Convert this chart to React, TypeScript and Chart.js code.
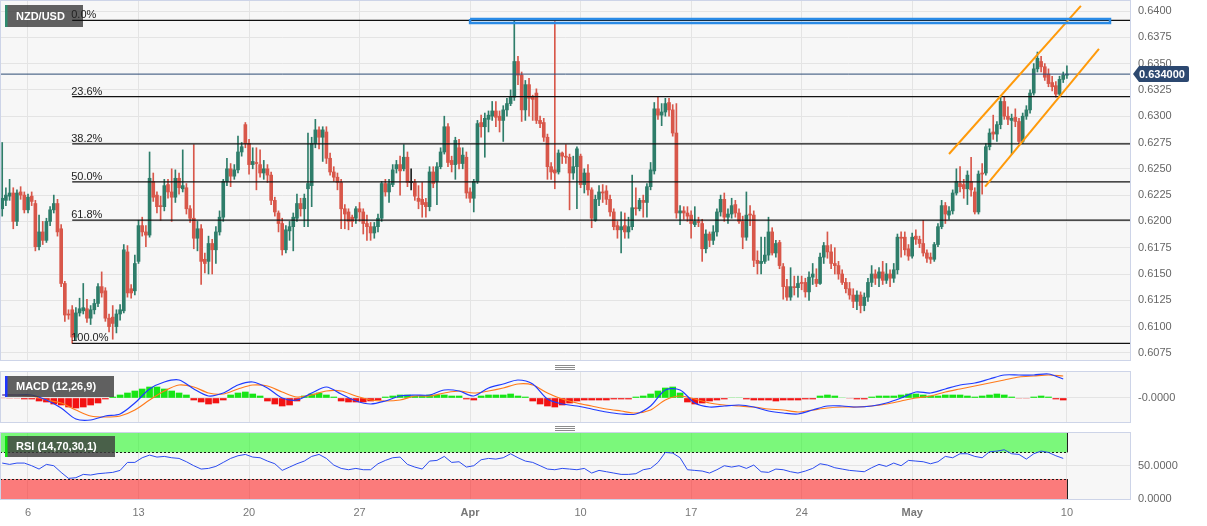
import React, { useEffect, useRef } from "react";
import { Chart, registerables } from "chart.js";

Chart.register(...registerables);

const FONT = '"Liberation Sans", Arial, Helvetica, sans-serif';
const PIP = 10000;

// ---- 4-hour NZD/USD candles, prices in pips (0.6212 -> 6212) ----
const openPips = [
  6212,6220,6224,6227,6200,6228,6225,6211,6224,6217,
  6176,6190,6182,6200,6211,6217,6193,6141,6112,6116,
  6090,6113,6115,6117,6108,6116,6122,6138,6134,6108,
  6109,6100,6112,6115,6171,6136,6134,6162,6196,6190,
  6187,6238,6225,6215,6214,6235,6228,6223,6241,6231,
  6232,6212,6203,6184,6193,6164,6162,6179,6173,6190,
  6204,6238,6250,6243,6249,6266,6292,6274,6254,6256,
  6254,6246,6250,6244,6220,6208,6198,6173,6191,6195,
  6203,6217,6212,6231,6234,6274,6287,6280,6285,6260,
  6247,6242,6237,6212,6209,6204,6203,6212,6209,6198,
  6195,6189,6195,6203,6236,6228,6235,6250,6254,6250,
  6261,6237,6237,6222,6221,6218,6214,6247,6238,6252,
  6266,6290,6258,6254,6270,6255,6261,6228,6222,6238,
  6294,6290,6297,6300,6305,6300,6296,6306,6312,6318,
  6352,6339,6306,6330,6318,6322,6296,6294,6280,6252,
  6249,6247,6265,6262,6261,6246,6252,6262,6235,6246,
  6230,6201,6221,6228,6229,6221,6209,6196,6192,6196,
  6190,6195,6213,6212,6220,6218,6233,6248,6307,6301,
  6304,6313,6306,6284,6208,6210,6208,6206,6197,6200,
  6198,6174,6188,6182,6190,6209,6221,6204,6207,6216,
  6208,6200,6185,6207,6206,6163,6160,6162,6168,6190,
  6170,6180,6157,6138,6128,6138,6137,6142,6142,6133,
  6147,6145,6141,6166,6177,6171,6160,6158,6150,6142,
  6136,6130,6124,6130,6120,6128,6142,6150,6146,6152,
  6144,6150,6146,6154,6185,6185,6174,6167,6186,6183,
  6179,6170,6166,6164,6178,6195,6215,6206,6210,6227,
  6236,6235,6231,6238,6228,6209,6246,6246,6271,6285,
  6283,6292,6314,6300,6296,6299,6295,6276,6300,6306,
  6322,6345,6352,6347,6340,6332,6329,6321,6335,6339,
];
const highPips = [
  6275,6232,6240,6232,6230,6233,6228,6226,6228,6220,
  6206,6200,6203,6214,6225,6221,6197,6143,6116,6120,
  6118,6127,6141,6126,6120,6126,6141,6152,6137,6112,
  6120,6116,6121,6178,6177,6140,6168,6201,6204,6196,
  6266,6246,6228,6224,6240,6240,6250,6249,6246,6268,
  6236,6215,6273,6200,6197,6170,6186,6183,6195,6210,
  6240,6260,6255,6254,6281,6275,6294,6278,6270,6270,
  6268,6258,6254,6247,6223,6210,6203,6196,6200,6208,
  6226,6222,6226,6284,6280,6297,6290,6290,6290,6265,
  6252,6246,6240,6216,6212,6206,6214,6218,6212,6206,
  6199,6199,6207,6238,6240,6240,6254,6258,6262,6273,
  6266,6250,6240,6234,6237,6222,6252,6252,6256,6270,
  6300,6293,6262,6280,6278,6270,6266,6232,6240,6296,
  6301,6303,6305,6314,6314,6305,6310,6317,6325,6391,
  6357,6342,6334,6336,6320,6326,6300,6298,6283,6256,
  6390,6268,6266,6273,6264,6262,6271,6264,6250,6254,
  6232,6225,6234,6235,6234,6225,6212,6200,6209,6208,
  6204,6244,6232,6222,6225,6236,6256,6313,6319,6312,
  6317,6317,6311,6312,6215,6214,6214,6210,6214,6204,
  6202,6192,6190,6196,6212,6225,6227,6212,6222,6220,
  6212,6205,6228,6215,6210,6172,6185,6185,6204,6194,
  6182,6182,6160,6145,6156,6148,6148,6148,6146,6152,
  6160,6155,6170,6180,6190,6178,6175,6162,6154,6146,
  6142,6136,6134,6133,6132,6146,6158,6154,6156,6162,
  6160,6154,6160,6188,6190,6190,6178,6189,6192,6186,
  6201,6173,6170,6180,6198,6220,6218,6214,6230,6250,
  6252,6240,6248,6261,6232,6248,6255,6274,6288,6301,
  6295,6318,6318,6309,6302,6307,6298,6303,6310,6325,
  6350,6361,6357,6350,6345,6338,6333,6338,6342,6348,
];
const lowPips = [
  6205,6215,6220,6193,6196,6221,6208,6208,6215,6172,
  6173,6178,6180,6196,6208,6186,6138,6105,6107,6084,
  6087,6110,6112,6104,6102,6112,6119,6128,6105,6095,
  6088,6094,6106,6113,6128,6127,6130,6160,6186,6176,
  6185,6219,6208,6201,6210,6222,6200,6218,6226,6228,
  6207,6199,6174,6172,6140,6151,6150,6150,6160,6187,
  6200,6234,6233,6240,6246,6262,6270,6245,6250,6230,
  6242,6240,6237,6216,6205,6190,6168,6170,6182,6172,
  6200,6205,6195,6195,6214,6270,6269,6257,6255,6244,
  6238,6230,6193,6193,6192,6195,6198,6200,6188,6182,
  6182,6184,6190,6200,6224,6218,6233,6246,6225,6248,
  6233,6230,6220,6212,6204,6204,6210,6232,6216,6250,
  6264,6252,6247,6240,6250,6250,6222,6218,6209,6236,
  6280,6261,6285,6296,6290,6285,6276,6300,6310,6315,
  6330,6295,6296,6300,6296,6293,6289,6276,6240,6240,
  6231,6245,6255,6255,6211,6240,6212,6232,6227,6225,
  6194,6200,6215,6218,6216,6205,6192,6184,6170,6184,
  6184,6192,6206,6210,6204,6204,6230,6245,6297,6291,
  6300,6300,6281,6203,6197,6202,6200,6184,6195,6195,
  6162,6170,6176,6178,6186,6205,6200,6198,6203,6204,
  6198,6174,6182,6196,6157,6150,6150,6160,6163,6168,
  6166,6155,6126,6125,6125,6130,6128,6135,6128,6125,
  6140,6138,6140,6160,6165,6155,6150,6145,6140,6132,
  6126,6118,6116,6113,6115,6124,6138,6140,6138,6140,
  6141,6138,6142,6150,6166,6168,6163,6165,6178,6175,
  6167,6161,6160,6162,6176,6193,6198,6202,6207,6225,
  6228,6222,6216,6224,6207,6207,6226,6244,6268,6278,
  6276,6288,6297,6292,6264,6290,6274,6274,6297,6303,
  6320,6342,6342,6334,6328,6324,6318,6319,6332,6336,
];
const closePips = [
  6222,6225,6227,6200,6227,6225,6211,6223,6219,6176,
  6190,6182,6200,6211,6217,6190,6141,6111,6111,6090,
  6113,6117,6118,6108,6116,6122,6138,6132,6108,6100,
  6103,6112,6116,6173,6132,6132,6160,6196,6190,6187,
  6241,6223,6214,6214,6234,6228,6223,6241,6232,6234,
  6212,6203,6184,6193,6162,6160,6179,6173,6190,6204,
  6238,6250,6243,6249,6266,6271,6274,6254,6257,6255,
  6246,6250,6244,6220,6209,6198,6173,6192,6195,6204,
  6217,6212,6222,6236,6274,6287,6280,6287,6260,6247,
  6242,6237,6212,6207,6200,6200,6212,6209,6198,6195,
  6189,6195,6203,6236,6228,6236,6249,6254,6248,6261,
  6237,6237,6224,6219,6216,6214,6247,6236,6252,6266,
  6290,6256,6254,6277,6255,6263,6227,6222,6238,6293,
  6290,6298,6301,6305,6299,6296,6306,6312,6318,6352,
  6339,6306,6330,6317,6316,6296,6293,6280,6252,6247,
  6246,6265,6262,6261,6246,6252,6269,6235,6246,6230,
  6203,6221,6228,6227,6221,6209,6195,6192,6195,6190,
  6195,6213,6212,6220,6218,6233,6249,6307,6301,6304,
  6312,6306,6284,6208,6210,6208,6205,6198,6200,6199,
  6174,6188,6182,6190,6209,6221,6204,6207,6215,6208,
  6200,6185,6206,6206,6163,6160,6162,6168,6190,6170,
  6179,6158,6138,6128,6138,6137,6141,6141,6133,6147,
  6150,6141,6166,6177,6171,6160,6158,6150,6142,6136,
  6130,6124,6130,6120,6128,6142,6150,6146,6152,6144,
  6150,6146,6154,6185,6184,6173,6167,6185,6183,6179,
  6170,6165,6164,6178,6195,6215,6207,6210,6227,6238,
  6233,6231,6244,6230,6209,6245,6245,6271,6284,6283,
  6292,6314,6300,6297,6298,6295,6276,6300,6306,6322,
  6345,6355,6347,6337,6331,6328,6321,6335,6339,6340,
];

// ---- axes ----
const priceTicks = [0.6075, 0.61, 0.6125, 0.615, 0.6175, 0.62, 0.6225, 0.625, 0.6275, 0.63, 0.6325, 0.635, 0.6375, 0.64];
const dayTickIdx = [7, 37, 67, 97, 127, 157, 187, 217, 247, 289];
const dayTickLabels = ["6", "13", "20", "27", "Apr", "10", "17", "24", "May", "10"];
const boldDayLabels = ["Apr", "May"];
const X_MIN = -0.6;
const X_MAX = 306.4;

// ---- drawings ----
const fibHigh = 0.6391;
const fibLow = 0.6084;
const fibStartIdx = 19;
const fibRatios = [0, 0.236, 0.382, 0.5, 0.618, 1];
const fibLabels = ["0.0%", "23.6%", "38.2%", "50.0%", "61.8%", "100.0%"];
const lastPrice = 0.634;
const boxX = [127, 300.7];
const boxY = [0.63886, 0.63924];
const channelUpperX = [257, 292.8];
const channelUpperY = [0.62641, 0.64048];
const channelLowerX = [266.8, 297.7];
const channelLowerY = [0.6233, 0.63639];

// ---- MACD (12,26,9), in units of 0.0001, one value every 4 candles ----
const macdStep = 4;
const macdLine = [3,3,3,-2,-10,-21,-22,-18,-16,-5,9,16,18,9,2,5,13,16,10,0,-2,5,11,4,-3,-6,-3,2,3,3,8,7,2,10,14,18,14,-1,-6,-8,-11,-14,-16,-16,-8,8,8,-5,-9,-8,-7,-9,-13,-15,-16,-12,-8,-8,-9,-8,-5,0,6,5,9,13,15,19,23,23,23,24,19];
const signalLine = [3,3,2,-2,-5,-12,-18,-19,-18,-12,-2,7,13,11,5,4,9,13,12,6,1,3,7,7,2,-2,-3,-2,2,2,5,7,5,7,10,14,13,5,-1,-5,-8,-11,-13,-15,-12,-2,2,-1,-5,-7,-8,-9,-11,-12,-14,-12,-10,-9,-9,-8,-6,-3,0,2,6,9,12,15,18,21,22,23,22];
// histogram, one bar every 2 candles
const histStep = 2;
const macdHist = [
  0,-0.5,-0.5,-1,-1,-3,-4,-6,-7,-9,
  -10,-9,-7,-5,-1,1,3,5,7,9,
  11,11,9,7,5,3,-2,-4,-6,-5,
  -2,3,5,6,4,2,-3,-6,-8,-7,
  -3,2,4,5,3,1,-3,-4,-4,-4,
  -3,-2,1,2,3,3,2,2,3,3,
  3,2,2,-1,-2,2,3,3,3,4,
  2,1,-3,-6,-8,-9,-7,-5,-3,-2,
  -2,-2,-2,-1,-1,-1,1,2,4,7,
  10,11,5,-4,-6,-5,-3,-2,-1,0.5,
  0.5,-1,-2,-2,-2,-3,-2,-2,-2,-1,
  -1,2,3,2,0.5,-0.5,-1,-1,1,2,
  2,2,3,4,4,3,2,2,3,3,
  3,2,1,2,3,4,3,1,-0.5,-0.5,
  1,2,1,-1,-2,
];

// ---- RSI (14), one value every 2 candles ----
const rsiStep = 2;
const rsiValues = [
  54,52,54,54,50,45,52,50,40,31,
  32,37,36,38,39,40,43,55,55,62,
  66,63,64,62,61,56,50,45,46,49,
  55,61,65,67,63,62,57,53,43,48,
  53,57,64,67,61,51,46,44,46,44,
  44,53,58,62,63,52,48,45,57,58,
  64,55,56,48,50,59,61,60,62,68,
  62,57,55,50,45,44,46,45,44,46,
  39,43,41,39,37,37,38,44,46,55,
  70,69,62,44,43,42,39,44,50,48,
  50,46,51,41,40,45,44,41,39,42,
  46,53,51,47,45,43,42,41,47,52,
  49,54,50,58,57,56,53,56,64,62,
  68,68,64,62,71,72,74,68,67,60,
  68,72,70,65,61,
];
const rsiTicks = [0, 50];
const rsiUpper = 70;
const rsiLower = 30;

const GREEN = "#2e7d6a";
const RED = "#d8574a";
const DOJI = "#222222";
const GRID = "#e4e4e4";
const PANE_BORDER = "#cdd4e8";

function xScaleOpts(showLabels: boolean): any {
  return {
    type: "linear",
    min: X_MIN,
    max: X_MAX,
    offset: false,
    bounds: "data",
    afterBuildTicks: (s: any) => {
      s.ticks = dayTickIdx.map((v) => ({ value: v }));
    },
    grid: { color: GRID, drawTicks: false, offset: false },
    border: { display: false },
    ticks: showLabels
      ? {
          display: true,
          padding: 6,
          color: "#777",
          autoSkip: false,
          maxRotation: 0,
          font: (c: any) => ({
            family: FONT,
            size: 11,
            weight: boldDayLabels.includes(dayTickLabels[c.index]) ? "bold" : "normal",
          }),
          callback: (_v: any, i: number) => dayTickLabels[i],
        }
      : { display: false },
    afterFit: (s: any) => {
      s.height = showLabels ? 26 : 0;
      s.paddingLeft = 0;
      s.paddingRight = 0;
    },
  };
}

function yScaleOpts(min: number, max: number, tickVals: number[], fmt: (v: number) => string): any {
  return {
    position: "right",
    min,
    max,
    bounds: "data",
    afterBuildTicks: (s: any) => {
      s.ticks = tickVals.map((v) => ({ value: v }));
    },
    ticks: {
      color: "#666",
      padding: 7,
      font: { family: FONT, size: 11 },
      callback: (v: any) => fmt(Number(v)),
    },
    grid: { color: GRID, drawTicks: false },
    border: { display: false },
    afterFit: (s: any) => {
      s.width = 76;
      s.paddingTop = 0;
      s.paddingBottom = 0;
    },
  };
}

const paneBg = {
  id: "paneBg",
  beforeDraw(chart: any) {
    const { ctx, chartArea: a } = chart;
    ctx.save();
    ctx.fillStyle = "#f7f7f7";
    ctx.fillRect(a.left, a.top, a.right - a.left, a.bottom - a.top);
    ctx.restore();
  },
  afterDraw(chart: any) {
    const { ctx, chartArea: a } = chart;
    ctx.save();
    ctx.strokeStyle = PANE_BORDER;
    ctx.lineWidth = 1;
    ctx.strokeRect(a.left + 0.5, a.top + 0.5, a.right - a.left - 1, a.bottom - a.top - 1);
    ctx.restore();
  },
};

function drawLabelBox(ctx: CanvasRenderingContext2D, x: number, y: number, w: number, h: number, accent: string, text: string) {
  ctx.save();
  ctx.fillStyle = "rgba(62,62,62,0.82)";
  ctx.fillRect(x, y, w, h);
  ctx.fillStyle = accent;
  ctx.fillRect(x, y, 2.5, h);
  ctx.fillStyle = "#ffffff";
  ctx.font = `bold 11px ${FONT}`;
  ctx.textBaseline = "middle";
  ctx.textAlign = "left";
  ctx.fillText(text, x + 11, y + h / 2 + 0.5);
  ctx.restore();
}

const nzdBox = {
  id: "nzdBox",
  beforeDatasetsDraw(chart: any) {
    drawLabelBox(chart.ctx, 5, 5, 78, 22, "#2e8b6e", "NZD/USD");
  },
  afterDraw(chart: any) {
    const { ctx, scales } = chart;
    const xs = scales.x;
    const ys = scales.y;
    ctx.save();
    ctx.font = `11px ${FONT}`;
    ctx.fillStyle = "#222";
    ctx.textBaseline = "alphabetic";
    ctx.textAlign = "left";
    fibRatios.forEach((r, k) => {
      const lvl = fibHigh - r * (fibHigh - fibLow);
      ctx.fillText(fibLabels[k], xs.getPixelForValue(fibStartIdx) - 1, ys.getPixelForValue(lvl) - 2);
    });
    // last-price tag on the axis
    const py = Math.round(ys.getPixelForValue(lastPrice));
    const left = chart.chartArea.right + 2;
    const right = left + 56;
    ctx.fillStyle = "#2c4870";
    ctx.beginPath();
    ctx.moveTo(left, py);
    ctx.lineTo(left + 6, py - 8);
    ctx.lineTo(right - 2, py - 8);
    ctx.quadraticCurveTo(right, py - 8, right, py - 6);
    ctx.lineTo(right, py + 6);
    ctx.quadraticCurveTo(right, py + 8, right - 2, py + 8);
    ctx.lineTo(left + 6, py + 8);
    ctx.closePath();
    ctx.fill();
    ctx.fillStyle = "#ffffff";
    ctx.font = `bold 11px ${FONT}`;
    ctx.textBaseline = "middle";
    ctx.fillText(lastPrice.toFixed(6), left + 6, py + 0.5);
    ctx.restore();
  },
};

const macdBox = {
  id: "macdBox",
  afterDraw(chart: any) {
    drawLabelBox(chart.ctx, 5, 6, 109, 21, "#1f35ff", "MACD (12,26,9)");
  },
};

const rsiBands = {
  id: "rsiBands",
  beforeDatasetsDraw(chart: any) {
    const { ctx, chartArea: a, scales } = chart;
    const xs = scales.x;
    const ys = scales.y;
    const x0 = a.left;
    const x1 = xs.getPixelForValue(closePips.length - 1);
    const yU = ys.getPixelForValue(rsiUpper);
    const yL = ys.getPixelForValue(rsiLower);
    ctx.save();
    ctx.fillStyle = "rgba(0,250,0,0.5)";
    ctx.fillRect(x0, a.top, x1 - x0, yU - a.top);
    ctx.fillStyle = "rgba(255,0,0,0.5)";
    ctx.fillRect(x0, yL, x1 - x0, a.bottom - yL);
    ctx.strokeStyle = "#1a1a1a";
    ctx.lineWidth = 1;
    ctx.setLineDash([2, 2]);
    ctx.beginPath();
    ctx.moveTo(x0, Math.round(yU) + 0.5);
    ctx.lineTo(x1, Math.round(yU) + 0.5);
    ctx.moveTo(x0, Math.round(yL) + 0.5);
    ctx.lineTo(x1, Math.round(yL) + 0.5);
    ctx.stroke();
    ctx.setLineDash([]);
    ctx.strokeStyle = "#222";
    ctx.beginPath();
    ctx.moveTo(Math.round(x1) + 0.5, a.top);
    ctx.lineTo(Math.round(x1) + 0.5, yU);
    ctx.moveTo(Math.round(x1) + 0.5, yL);
    ctx.lineTo(Math.round(x1) + 0.5, a.bottom);
    ctx.stroke();
    ctx.restore();
  },
  afterDraw(chart: any) {
    drawLabelBox(chart.ctx, 5, 5, 110, 21, "#10e010", "RSI (14,70,30,1)");
  },
};

const baseOpts: any = {
  responsive: false,
  maintainAspectRatio: false,
  animation: false,
  devicePixelRatio: 1,
  events: [],
  plugins: { legend: { display: false }, tooltip: { enabled: false } },
};

function lineDs(points: { x: number; y: number }[], color: string, width: number, order: number): any {
  return {
    type: "line",
    data: points,
    borderColor: color,
    backgroundColor: color,
    borderWidth: width,
    pointRadius: 0,
    fill: false,
    tension: 0,
    order,
  };
}

export default function App() {
  const mainRef = useRef<HTMLCanvasElement>(null);
  const macdRef = useRef<HTMLCanvasElement>(null);
  const rsiRef = useRef<HTMLCanvasElement>(null);

  useEffect(() => {
    const charts: Chart[] = [];
    const n = closePips.length;
    const idx = Array.from({ length: n }, (_, i) => i);
    const colors = idx.map((i) =>
      closePips[i] > openPips[i] ? GREEN : closePips[i] < openPips[i] ? RED : DOJI
    );

    const fibDs = fibRatios.map((r) => {
      const lvl = fibHigh - r * (fibHigh - fibLow);
      return lineDs([{ x: fibStartIdx, y: lvl }, { x: X_MAX, y: lvl }], "#111111", 1.3, 1);
    });

    if (mainRef.current) {
      charts.push(
        new Chart(mainRef.current, {
          type: "bar",
          data: {
            datasets: [
              {
                type: "bar",
                data: idx.map((i) => ({ x: i, y: [lowPips[i] / PIP, highPips[i] / PIP] })),
                backgroundColor: colors,
                barThickness: 1,
                grouped: false,
                order: 4,
              } as any,
              {
                type: "bar",
                data: idx.map((i) => ({
                  x: i,
                  y: [Math.min(openPips[i], closePips[i]) / PIP, Math.max(openPips[i], closePips[i]) / PIP],
                })),
                backgroundColor: colors,
                barThickness: 3,
                minBarLength: 1,
                grouped: false,
                order: 3,
              } as any,
              ...fibDs,
              lineDs([{ x: X_MIN, y: lastPrice }, { x: X_MAX, y: lastPrice }], "#2c4a74", 1, 1),
              lineDs(
                [
                  { x: boxX[0], y: boxY[1] },
                  { x: boxX[1], y: boxY[1] },
                  { x: boxX[1], y: boxY[0] },
                  { x: boxX[0], y: boxY[0] },
                  { x: boxX[0], y: boxY[1] },
                ],
                "#2a8be6",
                2.5,
                0
              ),
              lineDs(channelUpperX.map((x, k) => ({ x, y: channelUpperY[k] })), "#ff9a0a", 2, 0),
              lineDs(channelLowerX.map((x, k) => ({ x, y: channelLowerY[k] })), "#ff9a0a", 2, 0),
            ],
          },
          options: {
            ...baseOpts,
            layout: { padding: 0 },
            scales: {
              x: xScaleOpts(false),
              y: yScaleOpts(0.60673, 0.641046, priceTicks, (v) => v.toFixed(4)),
            },
          },
          plugins: [paneBg, nzdBox],
        } as any)
      );
    }

    if (macdRef.current) {
      charts.push(
        new Chart(macdRef.current, {
          type: "bar",
          data: {
            datasets: [
              {
                type: "bar",
                data: macdHist.map((v, k) => ({ x: k * histStep, y: v / PIP })),
                backgroundColor: macdHist.map((v) =>
                  v >= 1 ? "#16e616" : v > 0 ? "#a6f2a6" : v <= -1 ? "#f21212" : "#f5a8a8"
                ),
                barThickness: 6,
                grouped: false,
                order: 3,
              } as any,
              {
                ...lineDs(signalLine.map((v, k) => ({ x: k * macdStep, y: v / PIP })), "#ff7a1a", 1.2, 2),
                tension: 0.3,
              },
              {
                ...lineDs(macdLine.map((v, k) => ({ x: k * macdStep, y: v / PIP })), "#1f3bff", 1.2, 1),
                tension: 0.3,
              },
            ],
          },
          options: {
            ...baseOpts,
            layout: { padding: { top: 1, bottom: 1, left: 0, right: 0 } },
            scales: {
              x: xScaleOpts(false),
              y: yScaleOpts(-0.0025, 0.0027, [0], () => "-0.0000"),
            },
          },
          plugins: [paneBg, macdBox],
        } as any)
      );
    }

    if (rsiRef.current) {
      charts.push(
        new Chart(rsiRef.current, {
          type: "line",
          data: {
            datasets: [
              lineDs(rsiValues.map((v, k) => ({ x: k * rsiStep, y: v })), "#2c4cf0", 1, 1),
            ],
          },
          options: {
            ...baseOpts,
            layout: { padding: { top: 1, bottom: 0, left: 0, right: 0 } },
            scales: {
              x: xScaleOpts(true),
              y: yScaleOpts(-1.5, 100.7, rsiTicks, (v) => v.toFixed(4)),
            },
          },
          plugins: [paneBg, rsiBands],
        } as any)
      );
    }

    return () => charts.forEach((c) => c.destroy());
  }, []);

  const grip = (top: number) => (
    <div style={{ position: "absolute", left: 555, top, width: 20 }}>
      {[0, 1, 2].map((k) => (
        <div key={k} style={{ height: 1, background: "#8c8c8c", marginBottom: 1 }} />
      ))}
    </div>
  );

  return (
    <div style={{ position: "fixed", left: 0, top: 0, width: 1207, height: 526, background: "#ffffff", overflow: "hidden" }}>
      <canvas ref={mainRef} width={1207} height={361} style={{ position: "absolute", left: 0, top: 0 }} />
      {grip(365)}
      <canvas ref={macdRef} width={1207} height={54} style={{ position: "absolute", left: 0, top: 370 }} />
      {grip(426)}
      <canvas ref={rsiRef} width={1207} height={95} style={{ position: "absolute", left: 0, top: 431 }} />
    </div>
  );
}
